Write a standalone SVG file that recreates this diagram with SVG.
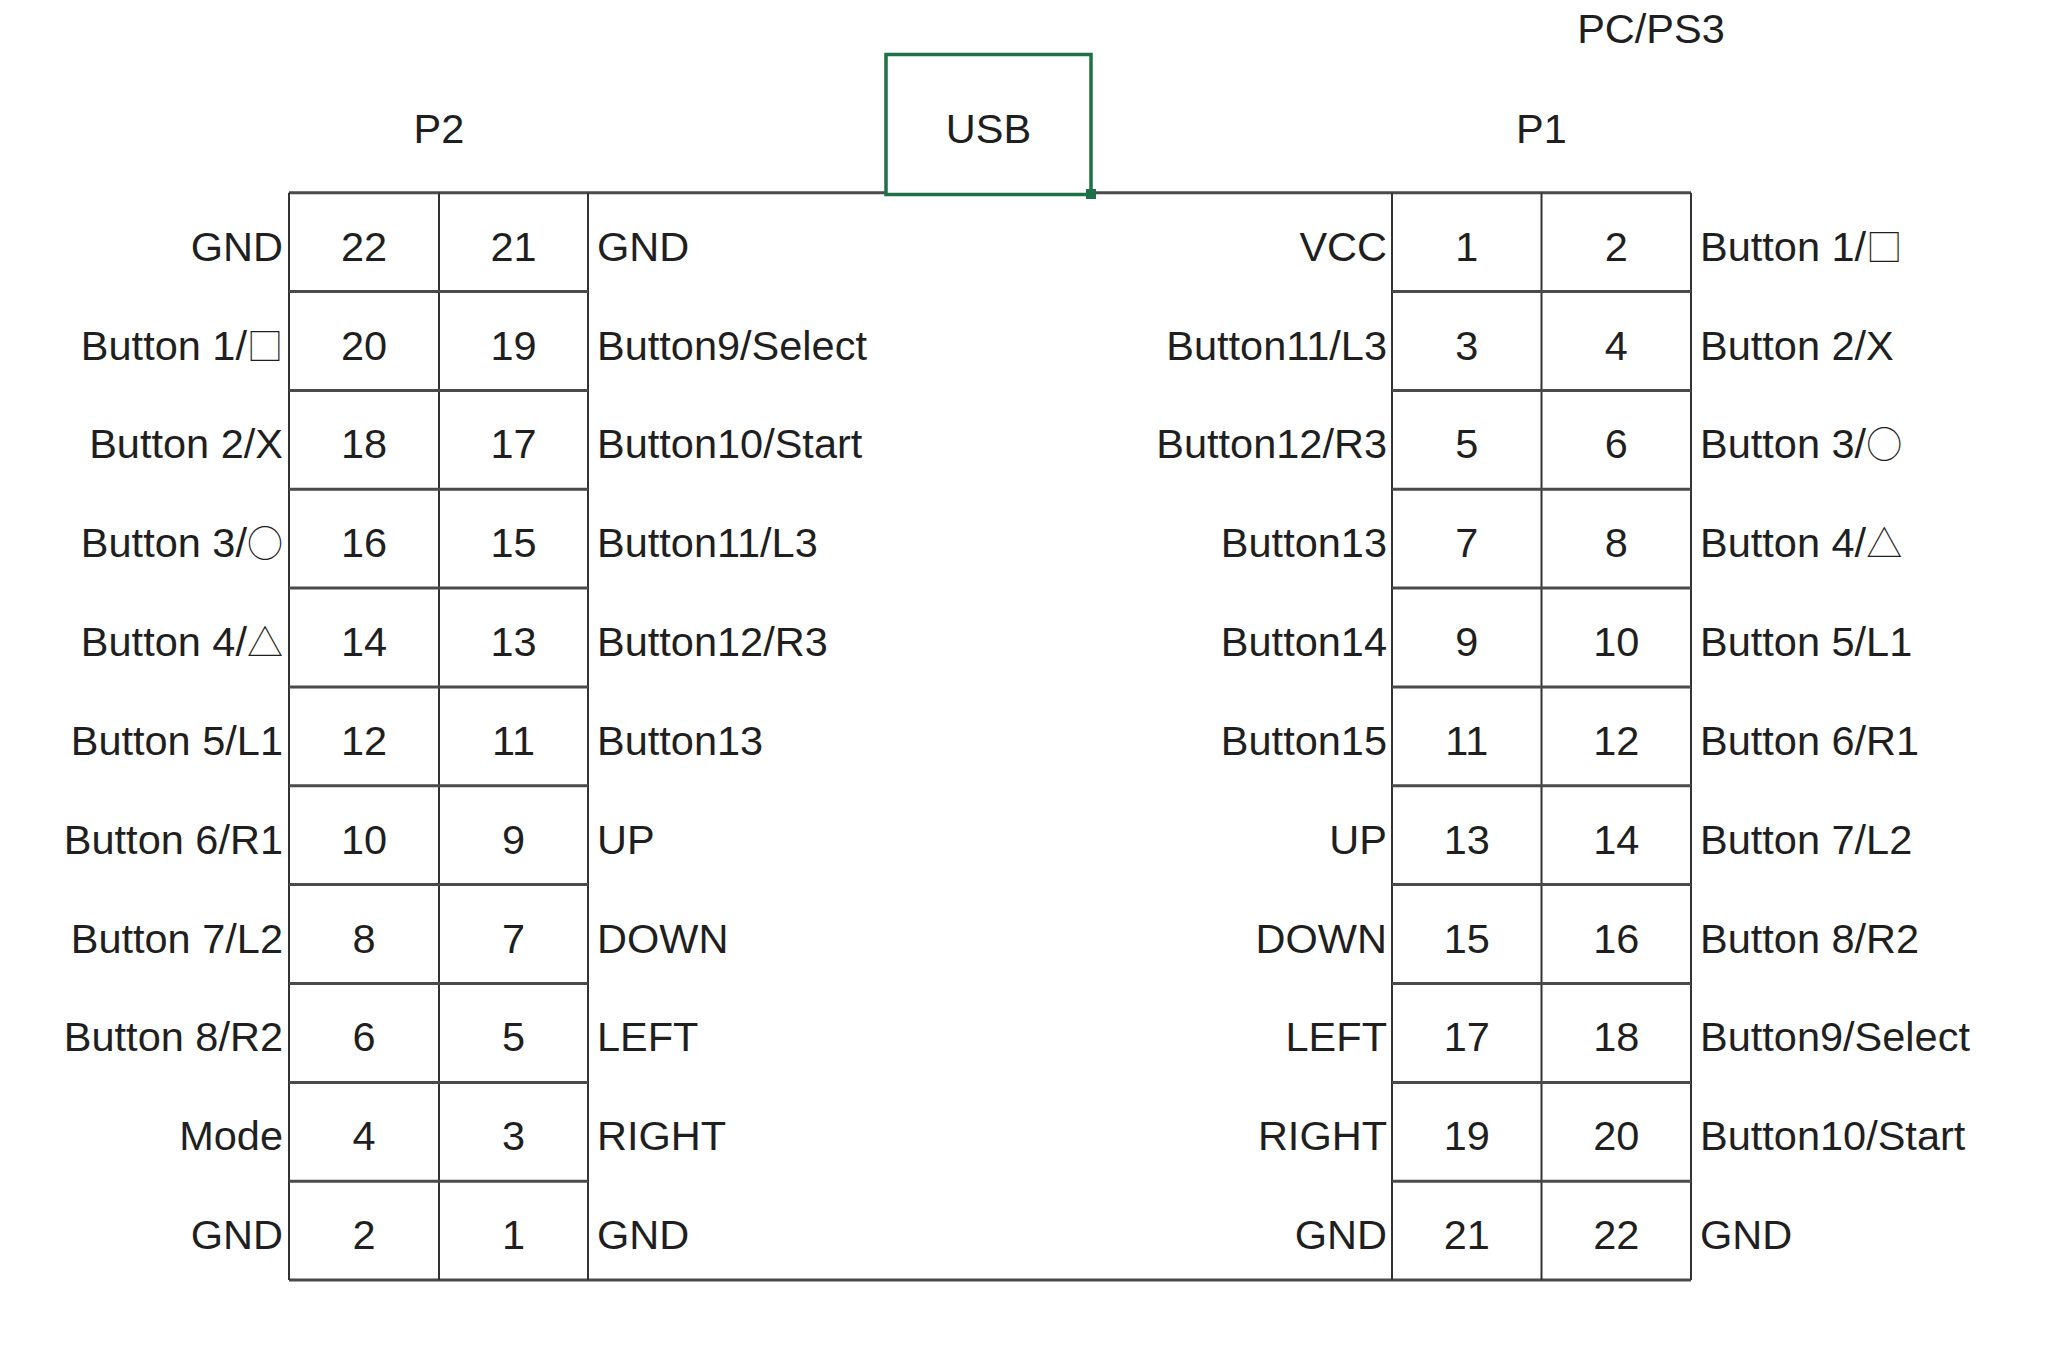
<svg xmlns="http://www.w3.org/2000/svg" width="2048" height="1352" viewBox="0 0 2048 1352">
<style>
text{font-family:"Liberation Sans","Noto Sans CJK SC",sans-serif;font-size:41.5px;fill:#1f1f1f}
.s{font-family:"Noto Sans CJK SC","Noto Sans CJK JP",sans-serif;font-weight:300;font-size:36px}
.c{text-anchor:middle}
.e{text-anchor:end}
.v{stroke:#333;stroke-width:2;fill:none}
.h{stroke:#4a4a4a;stroke-width:3;fill:none}
</style>
<rect width="2048" height="1352" fill="#fff"/>
<g id="titles">
<text class="c" x="1651" y="43">PC/PS3</text>
<text id="p2-title" class="c" x="439" y="143">P2</text>
<text id="p1-title" class="c" x="1541.5" y="143">P1</text>
</g>
<g id="frame">
<path class="h" d="M289 192.7H1691M289 1280H1691"/>
<path class="v" d="M289 192.7V1280M439 192.7V1280M588 192.7V1280M1392 192.7V1280M1541.5 192.7V1280M1691 192.7V1280"/>
<path class="h" d="M289 291.5H588M289 390.4H588M289 489.2H588M289 588.1H588M289 687H588M289 785.8H588M289 884.6H588M289 983.5H588M289 1082.4H588M289 1181.2H588"/>
<path class="h" d="M1392 291.5H1691M1392 390.4H1691M1392 489.2H1691M1392 588.1H1691M1392 687H1691M1392 785.8H1691M1392 884.6H1691M1392 983.5H1691M1392 1082.4H1691M1392 1181.2H1691"/>
</g>
<g id="usb">
<rect x="886" y="54.5" width="205" height="140" fill="#fff" stroke="#1e7145" stroke-width="3.5"/>
<rect x="1086" y="189" width="10" height="10" fill="#1e7145"/>
<text class="c" x="988.5" y="143">USB</text>
</g>
<g id="p2">
<g id="p2-r0"><text class="e" x="283" y="261">GND</text><text class="c" x="364" y="261">22</text><text class="c" x="513.5" y="261">21</text><text x="597" y="261">GND</text></g>
<g id="p2-r1"><text class="e" x="283" y="360">Button 1/<tspan class="s">□</tspan></text><text class="c" x="364" y="360">20</text><text class="c" x="513.5" y="360">19</text><text x="597" y="360">Button9/Select</text></g>
<g id="p2-r2"><text class="e" x="283" y="458">Button 2/X</text><text class="c" x="364" y="458">18</text><text class="c" x="513.5" y="458">17</text><text x="597" y="458">Button10/Start</text></g>
<g id="p2-r3"><text class="e" x="283" y="557">Button 3/<tspan class="s">○</tspan></text><text class="c" x="364" y="557">16</text><text class="c" x="513.5" y="557">15</text><text x="597" y="557">Button11/L3</text></g>
<g id="p2-r4"><text class="e" x="283" y="656">Button 4/<tspan class="s">△</tspan></text><text class="c" x="364" y="656">14</text><text class="c" x="513.5" y="656">13</text><text x="597" y="656">Button12/R3</text></g>
<g id="p2-r5"><text class="e" x="283" y="755">Button 5/L1</text><text class="c" x="364" y="755">12</text><text class="c" x="513.5" y="755">11</text><text x="597" y="755">Button13</text></g>
<g id="p2-r6"><text class="e" x="283" y="854">Button 6/R1</text><text class="c" x="364" y="854">10</text><text class="c" x="513.5" y="854">9</text><text x="597" y="854">UP</text></g>
<g id="p2-r7"><text class="e" x="283" y="953">Button 7/L2</text><text class="c" x="364" y="953">8</text><text class="c" x="513.5" y="953">7</text><text x="597" y="953">DOWN</text></g>
<g id="p2-r8"><text class="e" x="283" y="1051">Button 8/R2</text><text class="c" x="364" y="1051">6</text><text class="c" x="513.5" y="1051">5</text><text x="597" y="1051">LEFT</text></g>
<g id="p2-r9"><text class="e" x="283" y="1150">Mode</text><text class="c" x="364" y="1150">4</text><text class="c" x="513.5" y="1150">3</text><text x="597" y="1150">RIGHT</text></g>
<g id="p2-r10"><text class="e" x="283" y="1249">GND</text><text class="c" x="364" y="1249">2</text><text class="c" x="513.5" y="1249">1</text><text x="597" y="1249">GND</text></g>
</g>
<g id="p1">
<g id="p1-r0"><text class="e" x="1387" y="261">VCC</text><text class="c" x="1466.8" y="261">1</text><text class="c" x="1616.3" y="261">2</text><text x="1700" y="261">Button 1/<tspan class="s">□</tspan></text></g>
<g id="p1-r1"><text class="e" x="1387" y="360">Button11/L3</text><text class="c" x="1466.8" y="360">3</text><text class="c" x="1616.3" y="360">4</text><text x="1700" y="360">Button 2/X</text></g>
<g id="p1-r2"><text class="e" x="1387" y="458">Button12/R3</text><text class="c" x="1466.8" y="458">5</text><text class="c" x="1616.3" y="458">6</text><text x="1700" y="458">Button 3/<tspan class="s">○</tspan></text></g>
<g id="p1-r3"><text class="e" x="1387" y="557">Button13</text><text class="c" x="1466.8" y="557">7</text><text class="c" x="1616.3" y="557">8</text><text x="1700" y="557">Button 4/<tspan class="s">△</tspan></text></g>
<g id="p1-r4"><text class="e" x="1387" y="656">Button14</text><text class="c" x="1466.8" y="656">9</text><text class="c" x="1616.3" y="656">10</text><text x="1700" y="656">Button 5/L1</text></g>
<g id="p1-r5"><text class="e" x="1387" y="755">Button15</text><text class="c" x="1466.8" y="755">11</text><text class="c" x="1616.3" y="755">12</text><text x="1700" y="755">Button 6/R1</text></g>
<g id="p1-r6"><text class="e" x="1387" y="854">UP</text><text class="c" x="1466.8" y="854">13</text><text class="c" x="1616.3" y="854">14</text><text x="1700" y="854">Button 7/L2</text></g>
<g id="p1-r7"><text class="e" x="1387" y="953">DOWN</text><text class="c" x="1466.8" y="953">15</text><text class="c" x="1616.3" y="953">16</text><text x="1700" y="953">Button 8/R2</text></g>
<g id="p1-r8"><text class="e" x="1387" y="1051">LEFT</text><text class="c" x="1466.8" y="1051">17</text><text class="c" x="1616.3" y="1051">18</text><text x="1700" y="1051">Button9/Select</text></g>
<g id="p1-r9"><text class="e" x="1387" y="1150">RIGHT</text><text class="c" x="1466.8" y="1150">19</text><text class="c" x="1616.3" y="1150">20</text><text x="1700" y="1150">Button10/Start</text></g>
<g id="p1-r10"><text class="e" x="1387" y="1249">GND</text><text class="c" x="1466.8" y="1249">21</text><text class="c" x="1616.3" y="1249">22</text><text x="1700" y="1249">GND</text></g>
</g>
</svg>
